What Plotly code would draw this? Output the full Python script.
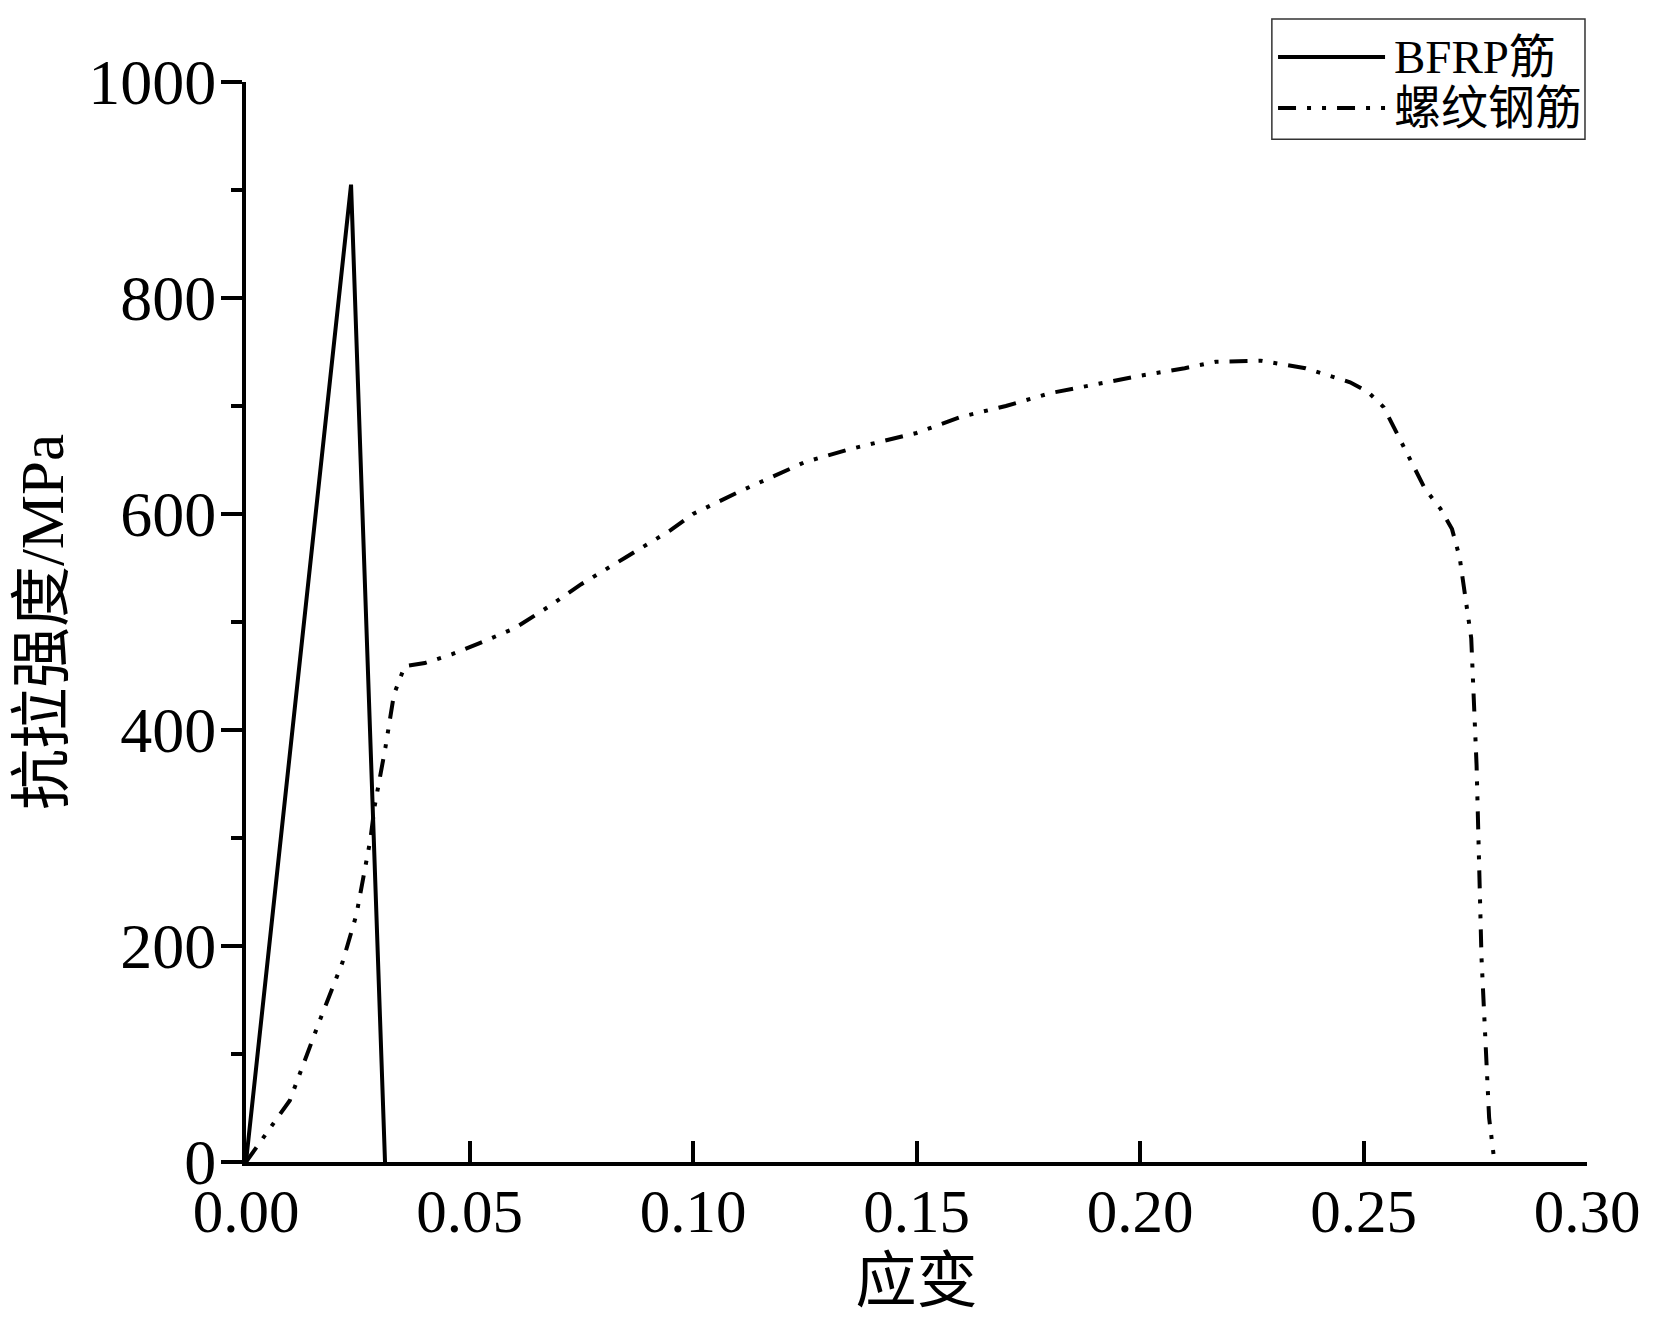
import plotly.graph_objects as go

# BFRP筋 应力-应变
bfrp_strain = [0.0, 0.0235, 0.0311]
bfrp_stress = [0, 905, 0]

# 螺纹钢筋 应力-应变
steel_strain = [0.0, 0.0098, 0.0164, 0.0216, 0.0247, 0.0278, 0.0288, 0.0312, 0.0331, 0.0355,
                0.040, 0.046, 0.052, 0.060, 0.068, 0.075, 0.085, 0.095, 0.100, 0.110,
                0.125, 0.135, 0.150, 0.160, 0.170, 0.180, 0.190, 0.200, 0.210, 0.217,
                0.227, 0.237, 0.247, 0.251, 0.2545, 0.2591, 0.2638, 0.2672, 0.2698, 0.2715,
                0.2728, 0.2741, 0.2753, 0.2764, 0.2781, 0.2793]
steel_stress = [0, 57, 130, 185, 229, 298, 330, 384, 433, 459,
                462, 470, 480, 494, 515, 535, 560, 585, 600, 620,
                648, 660, 675, 690, 700, 712, 720, 728, 735, 741,
                742, 735, 722, 713, 699, 662, 623, 605, 586, 560,
                525, 485, 367, 189, 41, 0]

x_ticks = [0.0, 0.05, 0.10, 0.15, 0.20, 0.25, 0.30]
y_ticks = [0, 200, 400, 600, 800, 1000]

legend_names = ['BFRP筋', '螺纹钢筋']

FONT = 'Liberation Serif, Times New Roman, Noto Sans CJK SC, serif'
STEEL_DASH = '18px,11px,4px,11px,4px,11px'

fig = go.Figure()

fig.add_trace(go.Scatter(x=bfrp_strain, y=bfrp_stress, mode='lines', name=legend_names[0],
                         line=dict(color='black', width=4), showlegend=False))
fig.add_trace(go.Scatter(x=steel_strain, y=steel_stress, mode='lines', name=legend_names[1],
                         line=dict(color='black', width=4, dash=STEEL_DASH), showlegend=False))

# 图例 (手动绘制, 线段更长)
fig.add_shape(type='rect', xref='paper', yref='paper', x0=0.765, x1=0.9985, y0=0.947, y1=1.0583,
              line=dict(color='#333333', width=1.5), fillcolor='white', layer='above')
for i, (name, dash) in enumerate(zip(legend_names, ['solid', STEEL_DASH])):
    yy = 1.0231 - i * 0.0472
    fig.add_shape(type='line', xref='paper', yref='paper', x0=0.7696, x1=0.8494, y0=yy, y1=yy,
                  line=dict(color='black', width=4, dash=dash), layer='above')
    fig.add_annotation(xref='paper', yref='paper', x=0.8546, y=yy, text=name, showarrow=False,
                       xanchor='left', yanchor='middle', font=dict(family=FONT, size=47, color='black'))

fig.update_layout(
    width=1668, height=1332,
    margin=dict(l=238, r=89, t=74, b=178),
    plot_bgcolor='white', paper_bgcolor='white',
    font=dict(family=FONT, color='black'),
)

fig.update_xaxes(
    range=[0, 0.30], tickvals=x_ticks, tickformat='.2f',
    showline=True, linecolor='black', linewidth=4, mirror=False,
    ticks='inside', ticklen=21, tickwidth=3.5, tickcolor='black',
    showgrid=False, zeroline=False, ticklabelstandoff=-7,
    tickfont=dict(family=FONT, size=61),
    title=dict(text='应变', font=dict(family=FONT, size=61), standoff=16),
)
fig.update_yaxes(
    range=[0, 1000], tickvals=y_ticks,
    showline=True, linecolor='black', linewidth=4, mirror=False,
    ticks='outside', ticklen=21, tickwidth=3.5, tickcolor='black',
    minor=dict(ticks='outside', ticklen=11, tickwidth=3.5, tickcolor='black', dtick=100, showgrid=False),
    showgrid=False, zeroline=False, ticklabelstandoff=-8,
    tickfont=dict(family=FONT, size=64),
    title=dict(text='抗拉强度/MPa', font=dict(family=FONT, size=61), standoff=6),
)

fig.write_html('out.html')
